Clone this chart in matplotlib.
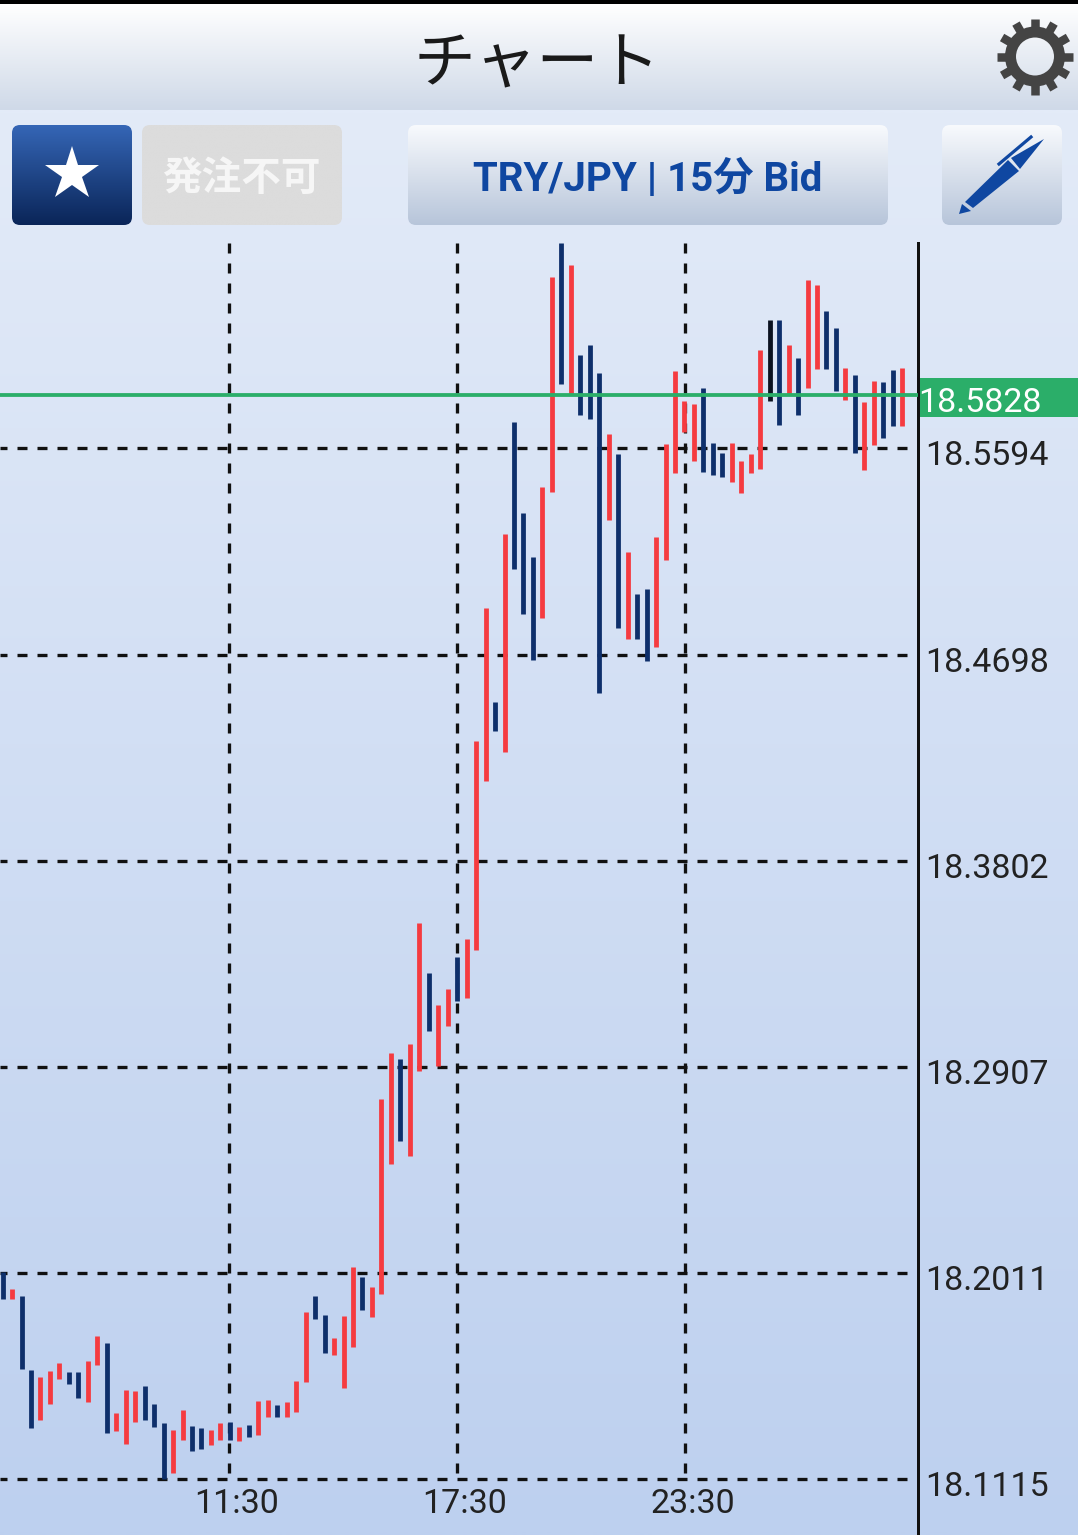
"""TRY/JPY 15 min bid chart screen, drawn as a high-low bar chart with the app chrome."""
import matplotlib

matplotlib.use("Agg")
import matplotlib.pyplot as plt
import numpy as np
from matplotlib.patches import FancyBboxPatch, Polygon, Circle, Rectangle

W, H = 1078, 1535
DPI = 100

# one (high, low) per 15 min bar, oldest first
highs = [
    18.2015, 18.1941, 18.1910, 18.1589, 18.1558, 18.1584, 18.1619, 18.1580,
    18.1580, 18.1628, 18.1737, 18.1706, 18.1402, 18.1502, 18.1498, 18.1519,
    18.1441, 18.1358, 18.1328, 18.1415, 18.1345, 18.1337, 18.1328, 18.1358,
    18.1363, 18.1341, 18.1350, 18.1454, 18.1458, 18.1437, 18.1450, 18.1541,
    18.1841, 18.1910, 18.1828, 18.1728, 18.1823, 18.2036, 18.1993, 18.1950,
    18.2767, 18.2966, 18.2941, 18.3006, 18.3532, 18.3314, 18.3175, 18.3245,
    18.3384, 18.3462, 18.4323, 18.4901, 18.4492, 18.5222, 18.5709, 18.5314,
    18.5122, 18.5427, 18.6339, 18.6487, 18.6392, 18.6000, 18.6044, 18.5922,
    18.5657, 18.5570, 18.5144, 18.4962, 18.4983, 18.5209, 18.5613, 18.5931,
    18.5800, 18.5787, 18.5857, 18.5618, 18.5574, 18.5618, 18.5540, 18.5570,
    18.6022, 18.6153, 18.6153, 18.6044, 18.5987, 18.6326, 18.6305, 18.6192,
    18.6118, 18.5944, 18.5913, 18.5796, 18.5887, 18.5883, 18.5935, 18.5944,
]
lows = [
    18.1897, 18.1897, 18.1593, 18.1337, 18.1371, 18.1441, 18.1550, 18.1528,
    18.1467, 18.1450, 18.1611, 18.1315, 18.1324, 18.1267, 18.1363, 18.1371,
    18.1341, 18.1115, 18.1141, 18.1285, 18.1237, 18.1245, 18.1263, 18.1285,
    18.1285, 18.1280, 18.1298, 18.1306, 18.1385, 18.1385, 18.1385, 18.1406,
    18.1537, 18.1810, 18.1663, 18.1654, 18.1511, 18.1689, 18.1850, 18.1819,
    18.1919, 18.2484, 18.2584, 18.2519, 18.2888, 18.3062, 18.2910, 18.3084,
    18.3193, 18.3206, 18.3414, 18.4149, 18.4366, 18.4275, 18.5070, 18.4875,
    18.4675, 18.4857, 18.5405, 18.5874, 18.5831, 18.5740, 18.5722, 18.4531,
    18.5283, 18.4814, 18.4766, 18.4766, 18.4670, 18.4731, 18.5109, 18.5488,
    18.5666, 18.5540, 18.5492, 18.5479, 18.5470, 18.5448, 18.5401, 18.5488,
    18.5505, 18.5800, 18.5696, 18.5831, 18.5740, 18.5857, 18.5940, 18.5940,
    18.5844, 18.5805, 18.5574, 18.5501, 18.5609, 18.5640, 18.5692, 18.5692,
]
# r = up, b = down, k = the one near-black bar
bar_kinds = list(
    "brbbrrrbbrrb"
    "rrrbbbrrbbrr"
    "brbrrbrrrbbr"
    "rrbrrrbrrbrr"
    "brrrbrbbbrrb"
    "rbbbrbrbbrrr"
    "rrbbbrrrrkbr"
    "brrbbrbrrbbr"
)
price_ticks = [18.5594, 18.4698, 18.3802, 18.2907, 18.2011, 18.1115]
time_grid = [23.89, 47.96, 72.04]
time_labels = ["11:30", "17:30", "23:30"]
last_price = 18.5826
last_label = "18.5828"

PRICE_TOP, PRICE_BOTTOM = 18.6487, 18.0872
BAR_COLORS = {"r": "#f53b40", "b": "#0e2f6b", "k": "#0b1220"}
GREEN = "#2bae69"
BAR_STEP_PX, BAR_X0_PX = 9.47, 2.6
CHART_RIGHT, CHART_TOP = 918, 243
PX = 72 / DPI  # points per pixel

plt.rcParams["lines.scale_dashes"] = False
plt.rcParams["font.family"] = ["Roboto", "Noto Sans CJK JP", "DejaVu Sans"]


def vgrad(ax, x0, x1, y0, y1, c0, c1, clip=None, zorder=1):
    c = matplotlib.colors.to_rgb(c0), matplotlib.colors.to_rgb(c1)
    t = np.linspace(0, 1, 256)[:, None, None]
    img = (1 - t) * np.array(c[0])[None, None, :] + t * np.array(c[1])[None, None, :]
    im = ax.imshow(img, extent=(x0, x1, y1, y0), aspect="auto", origin="upper",
                   interpolation="bilinear", zorder=zorder)
    if clip is not None:
        im.set_clip_path(clip)
    return im


def button(ax, x0, x1, y0, y1, c0, c1):
    patch = FancyBboxPatch((x0 + 8, y0 + 8), x1 - x0 - 16, y1 - y0 - 16,
                           boxstyle="round,pad=8,rounding_size=8", fc="none", ec="none", zorder=2)
    ax.add_patch(patch)
    vgrad(ax, x0, x1, y0, y1, c0, c1, clip=patch, zorder=2)


def draw_chrome(ui):
    ui.add_patch(Rectangle((0, 0), W, 4, fc="black", ec="none", zorder=3))
    vgrad(ui, 0, W, 4, 110, "#ffffff", "#cfd9e8")
    vgrad(ui, 0, W, 110, H, "#e3ebf8", "#bdd0ef")
    ui.text(537, 64, "チャート", fontsize=44.5, ha="center", va="center", color="#1a1a1a",
            family="Noto Sans CJK JP", zorder=4)

    button(ui, 12, 132, 125, 225, "#3566b6", "#0a2558")
    ui.plot([72], [174], marker="*", ms=41, mfc="white", mew=0, ls="none", zorder=4)
    button(ui, 142, 342, 125, 225, "#dcdcdc", "#dcdcdc")
    ui.text(241, 178, "発注不可", fontsize=28.5, ha="center", va="center", color="#f6f6f6",
            family="Noto Sans CJK JP", fontweight="bold", zorder=4)
    button(ui, 408, 888, 125, 225, "#f8fafd", "#b7c5da")
    ui.text(648, 179, "TRY/JPY | 15分 Bid", fontsize=29, fontweight="bold", ha="center",
            va="center", color="#0f47a1", family=["Roboto", "Noto Sans CJK JP"], zorder=4)
    button(ui, 942, 1062, 125, 225, "#f8fafd", "#b7c5da")

    # pen icon
    pen = "#0f47a1"
    ui.add_patch(Polygon([(965, 202), (973, 208), (1019, 171), (1008, 160)], fc=pen, ec="none", zorder=4))
    ui.add_patch(Polygon([(1011, 158), (1044, 139), (1020, 169)], fc=pen, ec="none", zorder=4))
    ui.add_patch(Polygon([(962, 204), (971, 211), (959, 214)], fc=pen, ec="none", zorder=4))
    ui.plot([999, 1031], [164, 137], color=pen, lw=3.2 * PX, zorder=4)

    # settings gear
    gear = "#444444"
    cx, cy = 1035, 56.5
    for a in np.arange(12) * np.pi / 6:
        ui.plot([cx + 24 * np.cos(a), cx + 38 * np.cos(a)], [cy + 24 * np.sin(a), cy + 38 * np.sin(a)],
                color=gear, lw=8.5 * PX, solid_capstyle="butt", zorder=4)
    ui.add_patch(Circle((cx, cy), 24.5, fc="none", ec=gear, lw=11 * PX, zorder=4))


def draw_chart(ax):
    xs = np.arange(len(highs))
    # grid under the bars
    for y in price_ticks:
        ax.plot([ax.get_xlim()[0], (908 - BAR_X0_PX) / BAR_STEP_PX], [y, y], color="#111111", lw=3.3 * PX,
                ls=(3 * PX, (10 * PX, 10 * PX)), dash_capstyle="butt", zorder=1)
    for x in time_grid:
        ax.plot([x, x], [PRICE_TOP, price_ticks[-1]], color="#111111", lw=3.3 * PX,
                ls=(0, (10 * PX, 10 * PX)), dash_capstyle="butt", zorder=1)

    colors = [BAR_COLORS[k] for k in bar_kinds]
    ax.vlines(xs, lows, highs, colors=colors, lw=4.8 * PX, capstyle="butt", zorder=2)

    ax.axhline(last_price, color=GREEN, lw=3.8 * PX, zorder=3)

    for y in price_ticks:
        ax.annotate(f"{y:.4f}", xy=(1, y), xycoords=("axes fraction", "data"),
                    xytext=(7 * PX, -8 * PX), textcoords="offset points", fontsize=24.5,
                    color="#222222", va="center", ha="left", annotation_clip=False)
    ax.annotate(last_label, xy=(1, last_price), xycoords=("axes fraction", "data"),
                xytext=(0, -8 * PX), textcoords="offset points", fontsize=24.5,
                color="white", va="center", ha="left", annotation_clip=False, zorder=6)
    for x, lab in zip(time_grid, time_labels):
        ax.annotate(lab, xy=(x, price_ticks[-1]), xytext=(8 * PX, -25 * PX), textcoords="offset points",
                    fontsize=24.5, color="#222222", ha="center", va="center", annotation_clip=False)


def main():
    fig = plt.figure(figsize=(W / DPI, H / DPI), dpi=DPI)
    ui = fig.add_axes([0, 0, 1, 1])
    draw_chrome(ui)
    # last price tag and the axis line sit on the page, right of the plot
    ui.add_patch(Rectangle((CHART_RIGHT, 378), W - CHART_RIGHT, 39, fc=GREEN, ec="none", zorder=4))
    ui.plot([CHART_RIGHT, CHART_RIGHT], [CHART_TOP, H], color="#111111", lw=3 * PX, zorder=5)
    ui.set_xlim(0, W)
    ui.set_ylim(H, 0)
    ui.axis("off")

    ax = fig.add_axes([0, 0, CHART_RIGHT / W, (H - CHART_TOP) / H])
    ax.patch.set_alpha(0)
    ax.set_xlim(-BAR_X0_PX / BAR_STEP_PX, (CHART_RIGHT - BAR_X0_PX) / BAR_STEP_PX)
    ax.set_ylim(PRICE_BOTTOM, PRICE_TOP)
    ax.set_xticks([])
    ax.set_yticks([])
    for s in ax.spines.values():
        s.set_visible(False)
    draw_chart(ax)

    fig.savefig("out.png", dpi=DPI)
    plt.close(fig)


if __name__ == "__main__":
    main()
